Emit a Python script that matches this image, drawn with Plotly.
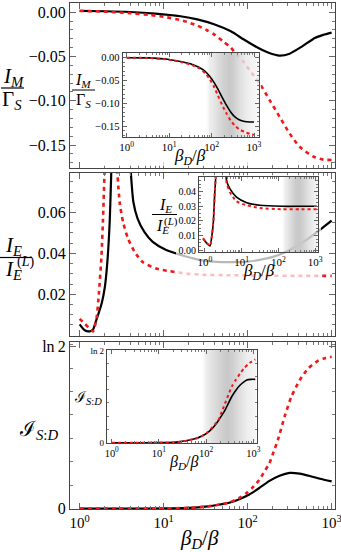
import plotly.graph_objects as go

W, H = 341, 552

# ---------------- data: log10(beta_D/beta) and values ----------------
# panel 1 : I_M / Gamma_S
im_lg_black = [0.0, 0.3, 0.6, 0.9, 1.2, 1.4, 1.6, 1.8, 1.95, 2.1, 2.25, 2.38, 2.5, 2.65, 2.8, 2.9, 3.0]
im_black = [0.0015, 0.0012, 0.0003, -0.0015, -0.0045, -0.008, -0.0135, -0.0215, -0.0305, -0.039,
            -0.0458, -0.049, -0.0468, -0.0385, -0.029, -0.0255, -0.023]
im_lg_red = [0.0, 0.3, 0.6, 0.83, 1.0, 1.23, 1.4, 1.51, 1.6, 1.71, 1.8, 1.87, 1.95, 2.02, 2.14, 2.26,
             2.38, 2.5, 2.62, 2.78, 2.9, 3.0]
im_red = [0.0015, 0.0008, -0.001, -0.003, -0.005, -0.0095, -0.015, -0.020, -0.025, -0.033, -0.040,
          -0.048, -0.056, -0.065, -0.080, -0.099, -0.118, -0.137, -0.152, -0.163, -0.1665, -0.167]

im_in_lg = [0, 0.5, 1.0, 1.3, 1.5, 1.7, 1.85, 1.95, 2.05, 2.15, 2.25, 2.35, 2.45, 2.55, 2.65, 2.78, 2.9, 3.0]
im_in_black = [0.0, -0.0005, -0.004, -0.009, -0.0135, -0.021, -0.030, -0.040, -0.053, -0.069, -0.087,
               -0.104, -0.119, -0.130, -0.136, -0.140, -0.141, -0.141]
im_in_red = [0.0, -0.0006, -0.0045, -0.010, -0.015, -0.023, -0.034, -0.046, -0.062, -0.083, -0.104,
             -0.122, -0.138, -0.149, -0.157, -0.163, -0.167, -0.169]
im_shade_lg = [1.88, 1.95, 2.1, 2.25, 2.4, 2.5, 2.65, 2.8, 2.95, 3.12]
im_shade = [0, 0.3, 0.55, 0.8, 1.0, 0.9, 0.6, 0.35, 0.2, 0.12]

# panel 2 : I_E / I_E^(L)   (None = divergence gap)
ie_lg_black = [0.0, 0.06, 0.12, 0.16, 0.19, 0.23, 0.265, 0.30, 0.33, 0.357, 0.38, None,
               0.60, 0.64, 0.69, 0.77, 0.87, 1.03, 1.19, 1.43, 1.63, 1.83, 2.0, 2.14, 2.3, 2.42,
               2.56, 2.70, 2.86, 3.0]
ie_black = [0.0053, 0.0024, 0.0019, 0.0028, 0.0064, 0.0113, 0.016, 0.0236, 0.036, 0.055, 0.085, None,
            0.085, 0.065, 0.057, 0.0505, 0.0456, 0.0416, 0.0394, 0.0368, 0.0358, 0.0357, 0.0360,
            0.0368, 0.0383, 0.0401, 0.043, 0.0466, 0.0515, 0.056]
ie_lg_red = [0.0, 0.06, 0.14, 0.16, 0.2, 0.23, 0.26, 0.28, 0.30, None,
             0.44, 0.476, 0.516, 0.575, 0.655, 0.75, 0.91, 1.07, 1.27, 1.43, 1.8, 2.2, 2.6, 3.0]
ie_red = [0.008, 0.0056, 0.0024, 0.0018, 0.008, 0.021, 0.039, 0.059, 0.085, None,
          0.085, 0.065, 0.0554, 0.0473, 0.0407, 0.0358, 0.0326, 0.0313, 0.0301, 0.0296, 0.0293,
          0.0291, 0.029, 0.029]

ie_in_lg = [-0.05, 0.09, 0.14, 0.18, 0.23, 0.27, 0.29, 0.31, None,
            0.57, 0.59, 0.68, 0.86, 1.14, 1.5, 2.1, 2.6, 3.05]
ie_in_black = [0.0079, 0.0038, 0.0029, 0.0079, 0.019, 0.0397, 0.0477, 0.06, None,
               0.06, 0.0477, 0.042, 0.0363, 0.0325, 0.0307, 0.030, 0.030, 0.030]
ie_in_red = [0.0082, 0.004, 0.003, 0.008, 0.0195, 0.040, 0.048, 0.06, None,
             0.06, 0.046, 0.0397, 0.0334, 0.0307, 0.0288, 0.028, 0.028, 0.028]
ie_shade_lg = [2.1, 2.18, 2.3, 2.45, 2.55, 2.65, 2.8, 2.95, 3.12]
ie_shade = [0, 0.3, 0.6, 0.9, 1.0, 0.85, 0.55, 0.3, 0.15]

# panel 3 : mutual information I_{S:D}
mi_lg_black = [0.0, 0.5, 1.0, 1.3, 1.5, 1.65, 1.79, 1.9, 2.02, 2.14, 2.26, 2.38, 2.5, 2.62, 2.74, 2.86, 3.0]
mi_black = [0, 0, 0.0005, 0.003, 0.008, 0.016, 0.026, 0.04, 0.06, 0.088, 0.118, 0.140, 0.152, 0.149,
            0.139, 0.127, 0.116]
mi_lg_red = [0, 0.5, 1.0, 1.3, 1.5, 1.65, 1.79, 1.9, 1.98, 2.06, 2.14, 2.2, 2.26, 2.31, 2.36, 2.44,
             2.52, 2.62, 2.72, 2.84, 2.92, 3.0]
mi_red = [0, 0, 0.0005, 0.003, 0.008, 0.016, 0.027, 0.045, 0.064, 0.09, 0.123, 0.158, 0.194, 0.243,
          0.293, 0.392, 0.477, 0.548, 0.598, 0.631, 0.642, 0.648]

mi_in_lg_black = [0, 0.5, 1.0, 1.3, 1.45, 1.6, 1.8, 1.9, 2.01, 2.12, 2.22, 2.31, 2.40, 2.47, 2.54,
                  2.63, 2.72, 2.8, 2.86, 2.95, 3.04]
mi_in_black = [0, 0, 0.0005, 0.003, 0.008, 0.016, 0.033, 0.048, 0.07, 0.104, 0.146, 0.195, 0.246,
               0.296, 0.346, 0.395, 0.434, 0.458, 0.472, 0.477, 0.477]
mi_in_lg_red = [0, 0.5, 1.0, 1.3, 1.45, 1.6, 1.8, 1.9, 2.01, 2.12, 2.19, 2.26, 2.33, 2.40, 2.47,
                2.54, 2.63, 2.72, 2.8, 2.89, 2.96, 3.04]
mi_in_red = [0, 0, 0.0005, 0.003, 0.008, 0.016, 0.033, 0.048, 0.072, 0.112, 0.14, 0.171, 0.232,
             0.296, 0.36, 0.422, 0.475, 0.522, 0.56, 0.592, 0.61, 0.627]
mi_shade_lg = [1.9, 1.98, 2.12, 2.28, 2.44, 2.55, 2.7, 2.85, 3.07]
mi_shade = [0, 0.3, 0.55, 0.8, 1.0, 0.85, 0.55, 0.3, 0.15]

# tick labels
x_tickvals = [1, 10, 100, 1000]
x_ticktext = ["10<sup>0</sup>", "10<sup>1</sup>", "10<sup>2</sup>", "10<sup>3</sup>"]
im_tickvals = [0, -0.05, -0.10, -0.15]
im_ticktext = ["0.00", "\u22120.05", "\u22120.10", "\u22120.15"]
ie_tickvals = [0.02, 0.04, 0.06]
ie_ticktext = ["0.02", "0.04", "0.06"]
ie_in_tickvals = [0, 0.01, 0.02, 0.03, 0.04]
ie_in_ticktext = ["0.00", "0.01", "0.02", "0.03", "0.04"]
LN2 = 0.6931
mi_tickvals = [0, LN2]
mi_ticktext = ["0", "ln\u20092"]


def X(v):
    return [None if a is None else 10 ** a for a in v]


def px(x):
    return x / W


def py(y):
    return 1 - y / H


FONT = "Liberation Serif"
minor_x = [m * 10 ** k for k in range(0, 3) for m in range(2, 10)]

fig = go.Figure()

# main panels (subplots 1-3)
main = [("x", "y", im_lg_black, im_black, im_lg_red, im_red),
        ("x2", "y2", ie_lg_black, ie_black, ie_lg_red, ie_red),
        ("x3", "y3", mi_lg_black, mi_black, mi_lg_red, mi_red)]
for xa, ya, lb, vb, lr, vr in main:
    fig.add_trace(go.Scatter(x=X(lb), y=vb, xaxis=xa, yaxis=ya, mode="lines",
                             line=dict(color="black", width=2.2, shape="spline", smoothing=0.6)))
    fig.add_trace(go.Scatter(x=X(lr), y=vr, xaxis=xa, yaxis=ya, mode="lines",
                             line=dict(color="#f01818", width=2.6, dash="4px,4px",
                                       shape="spline", smoothing=0.6)))

# translucent covers behind the insets (subplots 4-6)
for xa, ya in [("x4", "y4"), ("x5", "y5"), ("x6", "y6")]:
    fig.add_trace(go.Scatter(x=[0, 1, 1, 0, 0], y=[0, 0, 1, 1, 0], xaxis=xa, yaxis=ya,
                             mode="lines", fill="toself", fillcolor="rgba(255,255,255,0.72)",
                             line=dict(width=0), hoverinfo="skip"))

# insets (subplots 7-9)
insets = [("x7", "y7", im_shade_lg, im_shade, [-0.2, 0.02],
           im_in_lg, im_in_black, im_in_lg, im_in_red),
          ("x8", "y8", ie_shade_lg, ie_shade, [-0.01, 0.06],
           ie_in_lg, ie_in_black, ie_in_lg, ie_in_red),
          ("x9", "y9", mi_shade_lg, mi_shade, [-0.05, 0.75],
           mi_in_lg_black, mi_in_black, mi_in_lg_red, mi_in_red)]
for xa, ya, slg, s, yb, lb, vb, lr, vr in insets:
    fig.add_trace(go.Heatmap(x=X(slg), y=yb, z=[s, s], xaxis=xa, yaxis=ya, zmin=0, zmax=1,
                             colorscale=[[0, "rgba(200,200,200,0)"], [1, "rgba(200,200,200,1)"]],
                             zsmooth="best", showscale=False, hoverinfo="skip"))
    fig.add_trace(go.Scatter(x=X(lb), y=vb, xaxis=xa, yaxis=ya, mode="lines",
                             line=dict(color="black", width=1.6, shape="spline", smoothing=0.6)))
    fig.add_trace(go.Scatter(x=X(lr), y=vr, xaxis=xa, yaxis=ya, mode="lines",
                             line=dict(color="#f01818", width=2, dash="3px,3px",
                                       shape="spline", smoothing=0.6)))


def xax(dom, rng, show, size, tl=6, mtl=3):
    return dict(domain=[px(dom[0]), px(dom[1])], type="log", range=rng, tickvals=x_tickvals,
                ticktext=x_ticktext, showticklabels=show, ticks="inside", ticklen=tl,
                tickcolor="#666", mirror="allticks", showline=True, linecolor="#444",
                linewidth=1, showgrid=False, zeroline=False, automargin=False,
                ticklabeloverflow="allow",
                tickfont=dict(family=FONT, size=size, color="black"),
                minor=dict(tickvals=minor_x, ticks="inside", ticklen=mtl, tickcolor="#777"))


def yax(dom, rng, tv, tt, mdt, size, tl=6, mtl=3):
    return dict(domain=[py(dom[1]), py(dom[0])], range=rng, tickvals=tv, ticktext=tt,
                ticks="inside", ticklen=tl, tickcolor="#666", mirror="allticks", showline=True,
                linecolor="#444", linewidth=1, showgrid=False, zeroline=False, automargin=False,
                ticklabeloverflow="allow",
                tickfont=dict(family=FONT, size=size, color="black"),
                minor=dict(dtick=mdt, ticks="inside", ticklen=mtl, tickcolor="#777"))


hidden = dict(visible=False, range=[0, 1], fixedrange=True, automargin=False)

layout = dict(
    width=W, height=H, margin=dict(l=0, r=0, t=0, b=0, autoexpand=False), showlegend=False,
    paper_bgcolor="white", plot_bgcolor="rgba(0,0,0,0)",
    xaxis=dict(xax((70, 335), [-0.115, 3.04], False, 16), anchor="y"),
    yaxis=dict(yax((3, 168), [-0.176, 0.0105], im_tickvals, im_ticktext, 0.01, 16), anchor="x"),
    xaxis2=dict(xax((70, 335), [-0.115, 3.04], False, 16), anchor="y2"),
    yaxis2=dict(yax((173, 336), [-0.0004, 0.0793], ie_tickvals, ie_ticktext, 0.005, 16), anchor="x2"),
    xaxis3=dict(xax((70, 335), [-0.115, 3.04], True, 15), anchor="y3"),
    yaxis3=dict(yax((342, 509), [-0.002, 0.711], mi_tickvals, mi_ticktext, 0.1, 16), anchor="x3"),
    xaxis4=dict(hidden, domain=[px(100), px(261)], anchor="y4"),
    yaxis4=dict(hidden, domain=[py(166), py(52)], anchor="x4"),
    xaxis5=dict(hidden, domain=[px(176), px(321)], anchor="y5"),
    yaxis5=dict(hidden, domain=[py(283), py(175)], anchor="x5"),
    xaxis6=dict(hidden, domain=[px(85), px(260)], anchor="y6"),
    yaxis6=dict(hidden, domain=[py(472), py(348)], anchor="x6"),
    xaxis7=dict(xax((122.7, 259.3), [-0.094, 3.125], True, 11, 4, 2), anchor="y7"),
    yaxis7=dict(yax((53, 137), [-0.174, 0.0103], im_tickvals, im_ticktext, 0.01, 10.5, 4, 2), anchor="x7"),
    xaxis8=dict(xax((199, 317.7), [-0.16, 3.07], True, 11, 4, 2), anchor="y8"),
    yaxis8=dict(yax((177, 252), [-0.0012, 0.050], ie_in_tickvals, ie_in_ticktext, 0.0025, 10, 4, 2), anchor="x8"),
    xaxis9=dict(xax((106.7, 256.7), [-0.106, 3.07], True, 10.5, 4, 2), anchor="y9"),
    yaxis9=dict(yax((350, 443.3), [-0.0045, 0.698], mi_tickvals, mi_ticktext, 0.1, 9, 4, 2), anchor="x9"),
)
fig.update_layout(**layout)


def note(text, x, y, size, **kw):
    fig.add_annotation(text=text, x=px(x), y=py(y), xref="paper", yref="paper", showarrow=False,
                       xanchor="center", yanchor="middle",
                       font=dict(family=FONT, size=size, color="black"), **kw)


def bar(x0, x1, y, w=1):
    fig.add_shape(type="line", xref="paper", yref="paper", x0=px(x0), x1=px(x1), y0=py(y), y1=py(y),
                  line=dict(color="black", width=w))


IM = "<i>I</i><sub><i>M</i></sub>"
GS = "\u0393<sub><i>S</i></sub>"
IE = "<i>I</i><sub><i>E</i></sub>"
MI = "\u2110<sub><i>S</i>:<i>D</i></sub>"
BD = "<i>\u03b2</i><sub><i>D</i></sub>/<i>\u03b2</i>"

# main axis titles
note(IM, 13, 77, 21)
bar(1, 24, 88, 1.2)
note(GS, 12, 100, 21)
note(IE, 13, 246, 21)
bar(0, 32, 257.5, 1.2)
note(IE, 13, 270, 21)
note("(<i>L</i>)", 25, 262, 14)
note(MI, 38, 430, 21)
note(BD, 199, 539, 21)

# inset titles
note(IM, 83, 81, 16)
bar(72, 95, 90, 1)
note(GS, 83, 100, 16)
note(IE, 165, 205, 16)
bar(152, 177, 214.5, 1)
note(IE, 162, 227, 16)
note("(<i>L</i>)", 171, 221, 11)
note(MI, 88, 398, 15)
note(BD, 190, 157, 17)
note(BD, 259, 272, 17)
note(BD, 184, 462, 16)

# the page body has a default 8px margin; remove it so the figure fills the window
fig.write_html("out.html", config={"displayModeBar": False},
               post_script="document.body.style.margin='0';")
